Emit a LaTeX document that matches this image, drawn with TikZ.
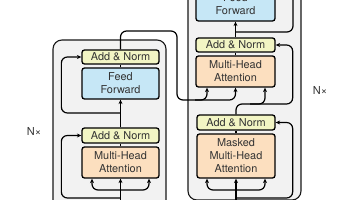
\documentclass[tikz,border=0pt]{standalone}
\usepackage{fontspec}
\setmainfont{TeX Gyre Heros}
\usetikzlibrary{arrows.meta}
\definecolor{anfill}{HTML}{F2F5C4}
\definecolor{fffill}{HTML}{C6E7F6}
\definecolor{atfill}{HTML}{FCDFBF}
\definecolor{bgfill}{HTML}{F2F2F2}
\tikzset{
  blk/.style={draw=black, line width=1.3pt, rounded corners=2.5pt, inner sep=0pt,
    align=center, text=black!80, font=\fontsize{10.9}{13}\selectfont},
  anbox/.style={blk, fill=anfill, minimum height=14pt},
  ffbox/.style={blk, fill=fffill},
  atbox/.style={blk, fill=atfill},
  outer/.style={draw=black!90, line width=1.1pt, fill=bgfill, rounded corners=9pt},
  conn/.style={draw=black, line width=1.2pt, rounded corners=6pt},
  arr/.style={conn, -{Stealth[length=4.5pt,width=4pt]}},
  nxlabel/.style={font=\fontsize{11}{13}\selectfont, text=black!80, inner sep=0pt}
}
\begin{document}
\begin{tikzpicture}[x=1pt,y=-1pt]
\useasboundingbox (0,0) rectangle (356,200);
% outer boxes
\draw[outer] (53,40) rectangle (166,215);
\draw[outer] (188,-30) rectangle (301,200);
% encoder blocks
\node[anbox, minimum width=77pt] (encAN2) at (120.5,57) {Add \& Norm};
\node[ffbox, minimum width=77pt, minimum height=31pt] (encFF) at (120.5,83.5) {Feed\\Forward};
\node[anbox, minimum width=77pt, minimum height=15pt] (encAN1) at (120.5,135.5) {Add \& Norm};
\node[atbox, minimum width=77pt, minimum height=31pt] (encMHA) at (120.5,162.5) {Multi-Head\\Attention};
% decoder blocks
\node[ffbox, minimum width=79pt, minimum height=33pt] (decFF) at (235.5,4.5) {Feed\\Forward};
\node[anbox, minimum width=79pt] (decAN2) at (235.5,45) {Add \& Norm};
\node[atbox, minimum width=79pt, minimum height=31pt] (decMHA) at (235.5,71.5) {Multi-Head\\Attention};
\node[anbox, minimum width=78pt, minimum height=15pt] (decAN1) at (236,122.5) {Add \& Norm};
\node[atbox, minimum width=78pt, minimum height=44pt] (decMMHA) at (236,156) {Masked\\Multi-Head\\Attention};
% labels
\node[nxlabel] (nxL) at (34,131) {N×};
\node[nxlabel] (nxR) at (320,90) {N×};
% coordinates
\coordinate (encIn) at (120.5,210);
\coordinate (encFork) at (120.5,190);
\coordinate (encRes1) at (120.5,198);
\coordinate (encRes2) at (120.5,113);
\coordinate (decIn) at (236,210);
\coordinate (decFork) at (236,190);
\coordinate (decRes1) at (236,198);
\coordinate (decRes3) at (235.5,32);
\coordinate (decTop) at (235.5,-30);
\coordinate (decRes3Top) at (293,-30);
% encoder connections
\draw[arr] (encIn) -- (encMHA.south);
\draw[arr] (encFork) -| ([xshift=-28.5pt]encMHA.south);
\draw[arr] (encFork) -| ([xshift=28.5pt]encMHA.south);
\draw[arr] (encRes1) -| ([xshift=-20pt]encAN1.west) -- (encAN1.west);
\draw[conn] (encMHA.north) -- (encAN1.south);
\draw[arr] (encAN1.north) -- (encFF.south);
\draw[arr] (encRes2) -| ([xshift=-20pt]encAN2.west) -- (encAN2.west);
\draw[conn] (encFF.north) -- (encAN2.south);
% encoder output to decoder
\draw[arr] (encAN2.north) |- (177,31) |- (235.5,100) -- (decMHA.south);
\draw[arr] (195,100) -| ([xshift=-28.5pt]decMHA.south);
% decoder connections
\draw[arr] (decIn) -- (decMMHA.south);
\draw[arr] (decFork) -| ([xshift=-29pt]decMMHA.south);
\draw[arr] (decFork) -| ([xshift=29pt]decMMHA.south);
\draw[arr] (decRes1) -| ([xshift=17pt]decAN1.east) -- (decAN1.east);
\draw[conn] (decMMHA.north) -- (decAN1.south);
\draw[arr] (decAN1.north) -- (236,104) -| ([xshift=17pt]decAN2.east) -- (decAN2.east);
\draw[arr] (250,104) -| ([xshift=29.5pt]decMHA.south);
\draw[conn] (decMHA.north) -- (decAN2.south);
\draw[arr] (decAN2.north) -- (decFF.south);
\draw[conn] (decRes3) -| (decRes3Top);
\draw[conn] (decFF.north) -- (decTop);
\end{tikzpicture}
\end{document}
